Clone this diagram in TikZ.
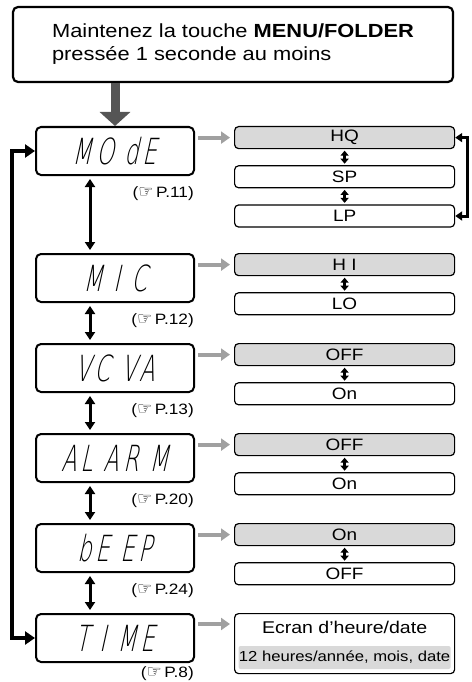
\documentclass[tikz,border=0pt]{standalone}
\usepackage{fontspec}
\setmainfont{Liberation Sans}[FakeStretch=1.15]
\newfontfamily\lcdfont{DejaVu Sans ExtraLight}[FakeStretch=0.62,FakeSlant=0.22,LetterSpace=11]
\newfontfamily\symfont{DejaVu Sans}
\usetikzlibrary{
  arrows.meta,
  positioning
}
\definecolor{selgray}{RGB}{217,217,217}
\definecolor{arrowgray}{RGB}{160,160,160}
\definecolor{pushgray}{RGB}{85,85,85}
\newcommand{\lcd}[1]{{\lcdfont\fontsize{36}{36}\selectfont #1}}
\newcommand{\pref}[1]{(\smash{\symfont\fontsize{17}{17}\selectfont ☞}\,P.#1)}

\begin{document}
\begin{tikzpicture}[
  font=\fontsize{16.5}{19}\selectfont,
  node distance=40pt,
  startbox/.style={
    draw,
    line width=2.2pt,
    rounded corners=5pt,
    minimum width=440pt,
    minimum height=75pt,
    align=left,
    font=\fontsize{19}{23}\selectfont
  },
  lcdbox/.style={
    draw,
    line width=2pt,
    rounded corners=5pt,
    minimum width=158pt,
    minimum height=48pt,
    inner sep=0pt
  },
  optbox/.style={
    draw,
    line width=1.2pt,
    rounded corners=4pt,
    minimum width=220pt,
    minimum height=22pt,
    inner sep=0pt
  },
  optsel/.style={
    optbox,
    fill=selgray
  },
  reflabel/.style={
    inner sep=0pt,
    font=\fontsize{15}{17}\selectfont
  },
  pusharr/.style={
    -{Triangle[length=14pt,width=30pt]},
    draw=pushgray,
    line width=9pt
  },
  selarr/.style={
    -{Triangle[length=9pt,width=12pt]},
    draw=arrowgray,
    line width=4pt,
    shorten <=3pt,
    shorten >=4pt
  },
  steparr/.style={
    {Triangle[length=8pt,width=10pt]}-{Triangle[length=8pt,width=10pt]},
    line width=3pt,
    shorten <=3pt,
    shorten >=3pt
  },
  toggarr/.style={
    {Triangle[length=5pt,width=8pt]}-{Triangle[length=5pt,width=8pt]},
    line width=2.5pt,
    shorten <=1.5pt,
    shorten >=1.5pt
  },
  looparr/.style={
    {Triangle[length=10pt,width=13pt]}-{Triangle[length=10pt,width=13pt]},
    line width=3.5pt
  },
  hqloop/.style={
    {Triangle[length=7pt,width=9pt]}-{Triangle[length=7pt,width=9pt]},
    line width=3pt
  }
]
\useasboundingbox (0,0) rectangle (471pt,-682pt);

\node[startbox] (start) at (233pt,-44.5pt) {Maintenez la touche \textbf{MENU/FOLDER}\\pressée 1 seconde au moins};

% menu screens
\node[lcdbox] (mode) at (115pt,-151pt) {\lcd{MO dE}};
\node[lcdbox, below=77pt of mode] (mic) {\lcd{M I C}};
\node[lcdbox, below=of mic] (vcva) {\lcd{VC VA}};
\node[lcdbox, below=of vcva] (alarm) {\lcd{AL AR M}};
\node[lcdbox, below=of alarm] (beep) {\lcd{bE EP}};
\node[lcdbox, below=of beep] (time) {\lcd{T I ME}};

\node[reflabel, below left=10pt and 1pt of mode.south east] (refmode) {\pref{11}};
\node[reflabel, below left=10pt and 1pt of mic.south east] (refmic) {\pref{12}};
\node[reflabel, below left=10pt and 1pt of vcva.south east] (refvcva) {\pref{13}};
\node[reflabel, below left=10pt and 1pt of alarm.south east] (refalarm) {\pref{20}};
\node[reflabel, below left=10pt and 1pt of beep.south east] (refbeep) {\pref{24}};
\node[reflabel, below left=3pt and 1pt of time.south east] (reftime) {\pref{8}};

% settings
\node[optsel, right=39pt of mode.north east, anchor=north west] (hq) {HQ};
\node[optbox, below=16pt of hq] (sp) {SP};
\node[optbox, below=16pt of sp] (lp) {LP};

\node[optsel, right=39pt of mic.north east, anchor=north west] (hi) {H I};
\node[optbox, below=16pt of hi] (lo) {LO};

\node[optsel, right=39pt of vcva.north east, anchor=north west] (vcoff) {OFF};
\node[optbox, below=16pt of vcoff] (vcon) {On};

\node[optsel, right=39pt of alarm.north east, anchor=north west] (aloff) {OFF};
\node[optbox, below=16pt of aloff] (alon) {On};

\node[optsel, right=39pt of beep.north east, anchor=north west] (bpon) {On};
\node[optbox, below=16pt of bpon] (bpoff) {OFF};

\node[optbox, minimum height=60pt, right=39pt of time.north east, anchor=north west] (ecran) {};
\node[inner sep=0pt, below=8pt of ecran.north, font=\fontsize{17}{19}\selectfont] (ecrantitle) {Ecran d’heure/date};
\node[fill=selgray, rounded corners=2pt, minimum width=212pt, minimum height=23pt, inner sep=0pt,
  above=5pt of ecran.south, font=\fontsize{14.5}{16}\selectfont] (ecransub) {12 heures/année, mois, date};

% arrows
\draw[pusharr] (start.south -| mode.north) -- (mode.north);

\draw[selarr] (mode.east |- hq.west) -- (hq.west);
\draw[selarr] (mic.east |- hi.west) -- (hi.west);
\draw[selarr] (vcva.east |- vcoff.west) -- (vcoff.west);
\draw[selarr] (alarm.east |- aloff.west) -- (aloff.west);
\draw[selarr] (beep.east |- bpon.west) -- (bpon.west);
\draw[selarr] ([yshift=-11pt]time.north east) -- ([yshift=-11pt]ecran.north west);

\draw[steparr] ([xshift=-25pt]mode.south) -- ([xshift=-25pt]mic.north);
\draw[steparr] ([xshift=-25pt]mic.south) -- ([xshift=-25pt]vcva.north);
\draw[steparr] ([xshift=-25pt]vcva.south) -- ([xshift=-25pt]alarm.north);
\draw[steparr] ([xshift=-25pt]alarm.south) -- ([xshift=-25pt]beep.north);
\draw[steparr] ([xshift=-25pt]beep.south) -- ([xshift=-25pt]time.north);

\draw[toggarr] (hq.south) -- (sp.north);
\draw[toggarr] (sp.south) -- (lp.north);
\draw[toggarr] (hi.south) -- (lo.north);
\draw[toggarr] (vcoff.south) -- (vcon.north);
\draw[toggarr] (aloff.south) -- (alon.north);
\draw[toggarr] (bpon.south) -- (bpoff.north);

\draw[looparr] (mode.west) -- ++(-23pt,0) |- (time.west);
\draw[hqloop] (hq.east) -- ++(12pt,0) |- (lp.east);

\end{tikzpicture}
\end{document}
